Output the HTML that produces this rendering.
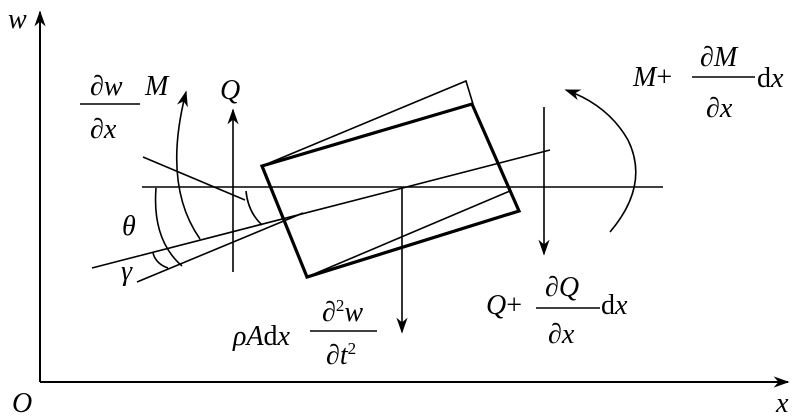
<!DOCTYPE html>
<html><head><meta charset="utf-8"><style>
html,body{margin:0;padding:0;background:#fff}
svg{display:block}
svg text{font-family:"Liberation Serif","Times New Roman","DejaVu Serif",serif}
</style></head><body>
<svg width="800" height="416" viewBox="0 0 800 416" xmlns="http://www.w3.org/2000/svg">
<defs>
<marker id="b" viewBox="0 0 10 10" refX="9" refY="5" markerWidth="16" markerHeight="16" markerUnits="userSpaceOnUse" orient="auto">
<path d="M0,1.5 L10,5 L0,8.5 L3,5 Z" fill="#000"/></marker>
</defs>
<g stroke="#000" fill="none" stroke-width="2">
<line x1="40" y1="382" x2="40" y2="12" marker-end="url(#b)"/>
<line x1="40" y1="382" x2="788" y2="382" marker-end="url(#b)"/>
</g>
<g stroke="#000" fill="none" stroke-width="1.6">
<line x1="142" y1="187" x2="663" y2="187"/>
<line x1="92" y1="268" x2="550" y2="150"/>
<line x1="137" y1="282" x2="303" y2="213"/>
<line x1="143" y1="157" x2="245" y2="200"/>
<polyline points="262,166 466,81 473,104"/>
<line x1="307" y1="277" x2="510" y2="191"/>
<line x1="233" y1="272" x2="233" y2="110" marker-end="url(#b)"/>
<line x1="402" y1="187" x2="402" y2="332" marker-end="url(#b)"/>
<line x1="544" y1="107" x2="544" y2="254" marker-end="url(#b)"/>
<path d="M156,188 Q152,240 182,266"/>
<path d="M153,253 Q156,264 168,268"/>
<path d="M200,239 Q162,185 186,92" marker-end="url(#b)"/>
<path d="M246,191 Q248,212 262,225"/>
<path d="M610,232 Q650,185 628,140 Q608,105 566,90" marker-end="url(#b)"/>
</g>
<polygon points="262,166 472,104 519,211 307,277" fill="none" stroke="#000" stroke-width="3.2"/>
<g font-size="28" fill="#000">
<text font-style="italic" x="8" y="28">w</text>
<text font-style="italic" x="12" y="412">O</text>
<text font-style="italic" x="776" y="412">x</text>
<text font-style="italic" x="145" y="95">M</text>
<text font-style="italic" x="220" y="99">Q</text>
<text x="90" y="95">∂<tspan font-style="italic">w</tspan></text>
<line x1="80" y1="104" x2="140" y2="104" stroke="#000" stroke-width="1.6"/>
<text x="90" y="138">∂<tspan font-style="italic">x</tspan></text>
<text font-style="italic" x="122" y="235">θ</text>
<text font-style="italic" x="121" y="280">γ</text>
<text x="633" y="86"><tspan font-style="italic">M</tspan>+</text>
<line x1="692" y1="77" x2="755" y2="77" stroke="#000" stroke-width="1.6"/>
<text x="700" y="66">∂<tspan font-style="italic">M</tspan></text>
<text x="706" y="117">∂<tspan font-style="italic">x</tspan></text>
<text x="757" y="87">d<tspan font-style="italic">x</tspan></text>
<text x="486" y="314"><tspan font-style="italic">Q</tspan>+</text>
<line x1="536" y1="308" x2="600" y2="308" stroke="#000" stroke-width="1.6"/>
<text x="545" y="296">∂<tspan font-style="italic">Q</tspan></text>
<text x="548" y="343">∂<tspan font-style="italic">x</tspan></text>
<text x="601" y="314">d<tspan font-style="italic">x</tspan></text>
<text x="233" y="345"><tspan font-style="italic">ρA</tspan>d<tspan font-style="italic">x</tspan></text>
<line x1="310" y1="331" x2="377" y2="331" stroke="#000" stroke-width="1.6"/>
<text x="322" y="321">∂<tspan font-size="17" dy="-10">2</tspan><tspan font-style="italic" dy="10">w</tspan></text>
<text x="326" y="364">∂<tspan font-style="italic">t</tspan><tspan font-size="17" dy="-10">2</tspan></text>
</g>
</svg>
</body></html>
